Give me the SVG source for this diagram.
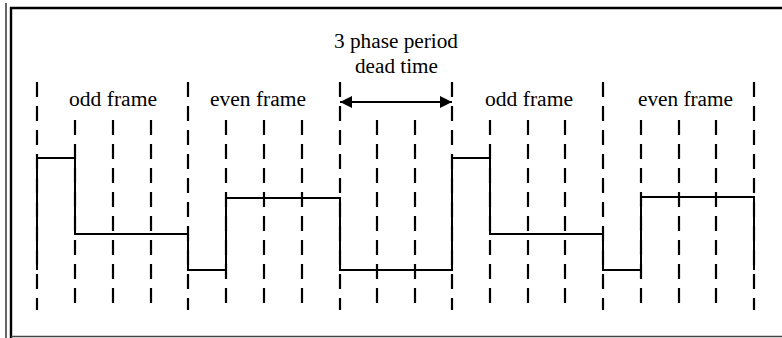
<svg xmlns="http://www.w3.org/2000/svg" width="782" height="338" viewBox="0 0 782 338">
<style>
.lbl{font-family:'Liberation Serif','Times New Roman',serif;font-size:20px;fill:#000}
.maj{stroke:#000;stroke-width:2.2;stroke-dasharray:15 9;fill:none}
.min{stroke:#000;stroke-width:2.2;stroke-dasharray:15 9;fill:none}
.wave{stroke:#000;stroke-width:2;fill:none}
</style>
<defs>
<marker id="ah" viewBox="0 0 12 12" refX="12" refY="6" markerWidth="12" markerHeight="12" markerUnits="userSpaceOnUse" orient="auto-start-reverse">
<path d="M0,0 L12,6 L0,12 Z" fill="#000"/>
</marker>
</defs>
<rect width="782" height="338" fill="#fff"/>
<g id="border">
<line x1="6" y1="3" x2="6" y2="338" stroke="#000" stroke-width="1.2"/>
<path d="M11,338 V8 H782" stroke="#000" stroke-width="2.4" fill="none"/>
<line x1="11" y1="336.5" x2="782" y2="336.5" stroke="#444" stroke-width="1.5"/>
</g>
<g id="frame-boundaries">
<line class="maj" x1="37" y1="82" x2="37" y2="310"/>
<line class="maj" x1="188" y1="82" x2="188" y2="310"/>
<line class="maj" x1="340" y1="82" x2="340" y2="310"/>
<line class="maj" x1="452" y1="82" x2="452" y2="310"/>
<line class="maj" x1="603" y1="82" x2="603" y2="310"/>
<line class="maj" x1="754" y1="82" x2="754" y2="310"/>
</g>
<g id="phase-lines">
<line class="min" x1="75" y1="120" x2="75" y2="303"/>
<line class="min" x1="113" y1="120" x2="113" y2="303"/>
<line class="min" x1="151" y1="120" x2="151" y2="303"/>
<line class="min" x1="226" y1="120" x2="226" y2="303"/>
<line class="min" x1="264" y1="120" x2="264" y2="303"/>
<line class="min" x1="302" y1="120" x2="302" y2="303"/>
<line class="min" x1="377" y1="120" x2="377" y2="303"/>
<line class="min" x1="415" y1="120" x2="415" y2="303"/>
<line class="min" x1="490" y1="120" x2="490" y2="303"/>
<line class="min" x1="528" y1="120" x2="528" y2="303"/>
<line class="min" x1="565" y1="120" x2="565" y2="303"/>
<line class="min" x1="641" y1="120" x2="641" y2="303"/>
<line class="min" x1="679" y1="120" x2="679" y2="303"/>
<line class="min" x1="716" y1="120" x2="716" y2="303"/>
</g>
<g id="waveform">
<path class="wave" d="M37,270 V158 H75 V234 H188 V270 H226 V198 H340 V270 H452 V158 H490 V234 H603 V270 H641 V197 H754 V270"/>
</g>
<g id="connectors">
<line x1="340" y1="102" x2="452" y2="102" stroke="#000" stroke-width="2" marker-start="url(#ah)" marker-end="url(#ah)"/>
</g>
<g id="labels">
<text class="lbl" x="69" y="106" textLength="88" lengthAdjust="spacingAndGlyphs">odd frame</text>
<text class="lbl" x="210" y="106" textLength="96" lengthAdjust="spacingAndGlyphs">even frame</text>
<text class="lbl" x="485" y="106" textLength="88" lengthAdjust="spacingAndGlyphs">odd frame</text>
<text class="lbl" x="638" y="106" textLength="95" lengthAdjust="spacingAndGlyphs">even frame</text>
<text class="lbl" x="334" y="48" textLength="124" lengthAdjust="spacingAndGlyphs">3 phase period</text>
<text class="lbl" x="355" y="73" textLength="83" lengthAdjust="spacingAndGlyphs">dead time</text>
</g>
</svg>
